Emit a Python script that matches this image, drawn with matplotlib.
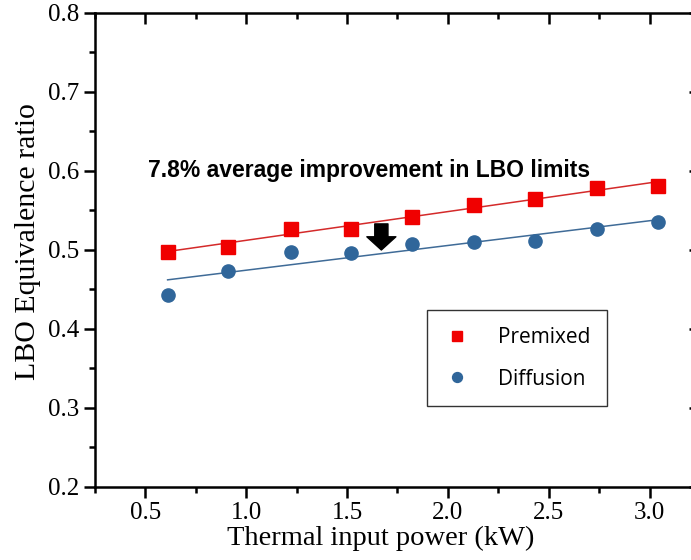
import numpy as np
import matplotlib.pyplot as plt
from matplotlib.ticker import MultipleLocator

# thermal input power (kW) and lean blow-off equivalence ratio
power = [0.61, 0.91, 1.22, 1.52, 1.82, 2.13, 2.43, 2.74, 3.04]
phi_premixed = [0.498, 0.504, 0.527, 0.527, 0.542, 0.557, 0.565, 0.579, 0.581]
phi_diffusion = [0.443, 0.474, 0.497, 0.496, 0.508, 0.510, 0.512, 0.527, 0.535]

red = '#f00000'
blue = '#30669a'

plt.rcParams['font.family'] = ['Liberation Serif', 'DejaVu Serif']

fig = plt.figure(figsize=(6.91, 5.60), dpi=100)
ax = fig.add_axes([0.1375, 0.1304, 0.8755, 0.8464])

x = np.array(power)
for y, c, m, lc, name in [(phi_premixed, red, 's', '#d42a2a', 'Premixed'),
                          (phi_diffusion, blue, 'o', '#3f6b97', 'Diffusion')]:
    k, b = np.polyfit(x, y, 1)
    ax.plot([x[0], x[-1]], [k * x[0] + b, k * x[-1] + b], color=lc, lw=1.1, zorder=2)
    ax.plot(x, y, ls='none', marker=m, ms=9.5, color=c, mec=c, label=name, zorder=3)

ax.set_xlim(0.25, 3.25)
ax.set_ylim(0.2, 0.8)
ax.xaxis.set_major_locator(MultipleLocator(0.5))
ax.xaxis.set_minor_locator(MultipleLocator(0.25))
ax.yaxis.set_major_locator(MultipleLocator(0.1))
ax.yaxis.set_minor_locator(MultipleLocator(0.05))
ax.xaxis.set_major_formatter(lambda v, p: f'{v:.1f}')
ax.yaxis.set_major_formatter(lambda v, p: f'{v:.1f}')

for s in ax.spines.values():
    s.set_linewidth(1.8)
ax.tick_params(which='major', direction='out', length=8, width=1.8, labelsize=18, pad=3)
ax.tick_params(which='minor', direction='out', length=4, width=1.8)

# mirrored ticks pointing inwards on top and right
top = ax.secondary_xaxis('top')
top.xaxis.set_major_locator(MultipleLocator(0.5))
top.xaxis.set_minor_locator(MultipleLocator(0.25))
top.tick_params(which='major', direction='in', length=8, width=1.8, labeltop=False)
top.tick_params(which='minor', direction='in', length=4, width=1.8)
top.spines['top'].set_visible(False)
right = ax.secondary_yaxis('right')
right.yaxis.set_major_locator(MultipleLocator(0.1))
right.yaxis.set_minor_locator(MultipleLocator(0.05))
right.tick_params(which='major', direction='in', length=8, width=1.8, labelright=False)
right.tick_params(which='minor', direction='in', length=4, width=1.8)
right.spines['right'].set_visible(False)

ax.set_xlabel('Thermal input power (kW)', fontsize=20.5)
ax.set_ylabel('LBO Equivalence ratio', fontsize=21.5)
ax.xaxis.set_label_coords(0.473, -0.083)
ax.yaxis.set_label_coords(-0.09, 0.517)

ax.text(0.515, 0.600, '7.8% average improvement in LBO limits',
        family='Liberation Sans', fontweight='bold', fontsize=16.5,
        va='center', ha='left')
ax.annotate('', xy=(1.67, 0.500), xytext=(1.67, 0.533),
            arrowprops=dict(arrowstyle='simple,head_width=1.1,head_length=0.5,tail_width=0.5',
                            mutation_scale=19, color='black', shrinkA=0, shrinkB=0))

leg = ax.legend(loc='upper left', bbox_to_anchor=(0.549, 0.373), borderaxespad=0,
                prop={'family': 'Open Sans', 'size': 15}, frameon=True, fancybox=False,
                borderpad=0.8, labelspacing=1.0, handletextpad=1.3, handlelength=1.3,
                markerscale=0.75)
leg.get_frame().set_edgecolor('black')
leg.get_frame().set_linewidth(1.0)

fig.savefig('out.png', dpi=100)
